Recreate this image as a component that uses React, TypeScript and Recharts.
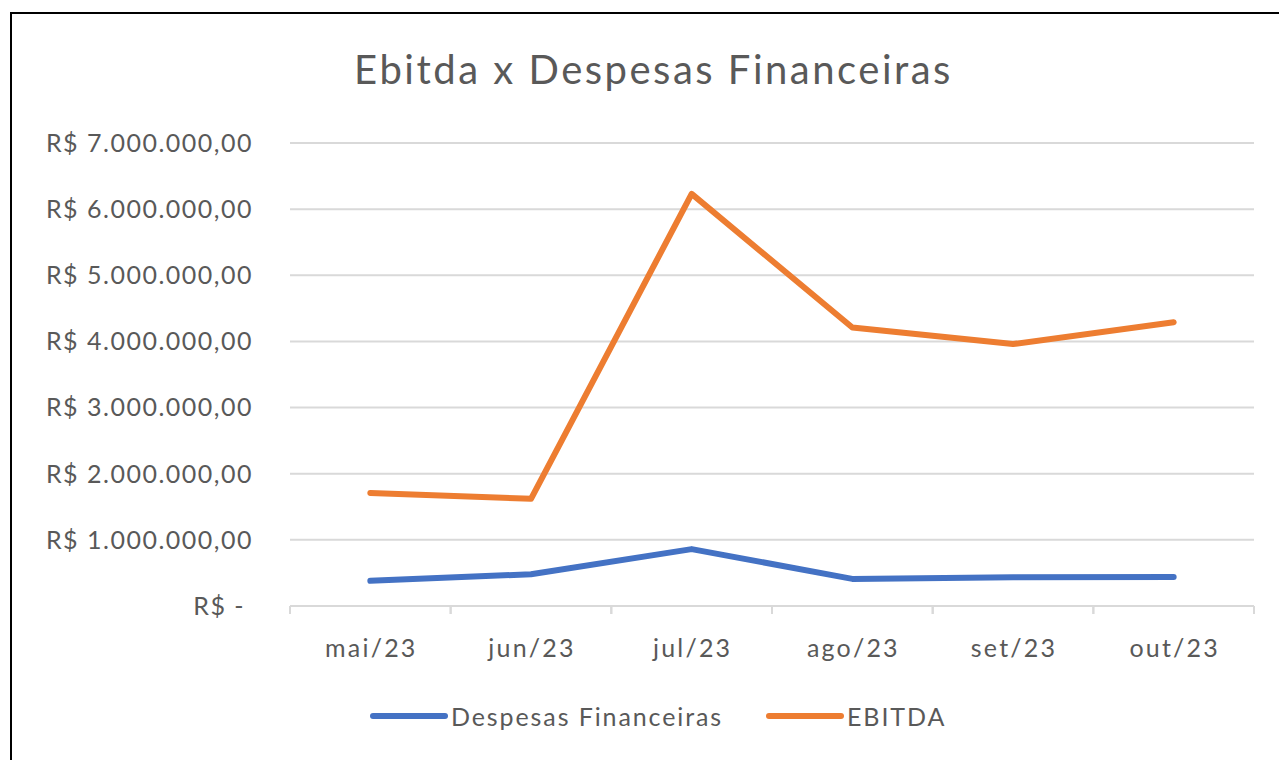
import { CartesianGrid, Legend, Line, LineChart, XAxis, YAxis } from "recharts";

const months = ["mai/23", "jun/23", "jul/23", "ago/23", "set/23", "out/23"];
const despesasFinanceiras = [380000, 480000, 860000, 410000, 435000, 440000];
const ebitda = [1710000, 1620000, 6230000, 4210000, 3960000, 4290000];
const yTicks = [0, 1000000, 2000000, 3000000, 4000000, 5000000, 6000000, 7000000];

const data = months.map((month, i) => ({
  month,
  despesas: despesasFinanceiras[i],
  ebitda: ebitda[i],
}));

const FONT = "Lato, 'Noto Sans', sans-serif";
const TEXT = "#595959";
const GRID = "#d9d9d9";

function formatBRL(value: number) {
  if (value === 0) return "R$ -\u00a0";
  const int = Math.round(value)
    .toString()
    .replace(/\B(?=(\d{3})+(?!\d))/g, ".");
  return `R$ ${int},00`;
}

function MonthTick(props: any) {
  const { x, y, payload } = props;
  const half = payload.offset ?? 0;
  const axisY = y - 33;
  return (
    <g>
      <line x1={x - half} x2={x - half} y1={axisY} y2={axisY + 8} stroke={GRID} strokeWidth={2} />
      <line x1={x + half} x2={x + half} y1={axisY} y2={axisY + 8} stroke={GRID} strokeWidth={2} />
      <text
        x={x + 1}
        y={y}
        dy="0.71em"
        textAnchor="middle"
        fill={TEXT}
        fontSize={25}
        letterSpacing={2.2}
        fontFamily={FONT}
      >
        {payload.value}
      </text>
    </g>
  );
}

function ChartLegend(props: any) {
  const items = props.payload ?? [];
  return (
    <div
      style={{
        display: "flex",
        justifyContent: "flex-start",
        alignItems: "center",
        height: 40,
        fontFamily: FONT,
        fontSize: 25,
        letterSpacing: 1.9,
        color: TEXT,
        paddingLeft: 369,
      }}
    >
      {items.map((item: any, i: number) => (
        <div
          key={item.value}
          style={{ display: "flex", alignItems: "center", marginLeft: i > 0 ? 42 : 0 }}
        >
          <svg width={80} height={12} style={{ marginRight: 2 }}>
            <line x1={4} x2={76} y1={6} y2={6} stroke={item.color} strokeWidth={6} strokeLinecap="round" />
          </svg>
          <span>{item.value}</span>
        </div>
      ))}
    </div>
  );
}

export default function App() {
  return (
    <div style={{ position: "fixed", left: 0, top: 0, width: 1279, height: 760, background: "#fff", overflow: "hidden" }}>
      <div
        style={{
          position: "absolute",
          left: 10,
          top: 12,
          width: 1300,
          height: 800,
          border: "2px solid #000",
          boxSizing: "border-box",
        }}
      />
      <div
        style={{
          position: "absolute",
          left: 0,
          top: 41,
          width: 1307,
          textAlign: "center",
          fontFamily: FONT,
          fontSize: 40,
          letterSpacing: 2.5,
          color: TEXT,
          lineHeight: "56px",
        }}
      >
        Ebitda x Despesas Financeiras
      </div>
      <div style={{ position: "absolute", left: 0, top: 0 }}>
        <LineChart
          width={1279}
          height={760}
          data={data}
          margin={{ top: 143, right: 25, bottom: 24, left: 0 }}
        >
          <CartesianGrid vertical={false} stroke={GRID} strokeWidth={2} />
          <XAxis
            dataKey="month"
            scale="band"
            height={90}
            tickSize={8}
            tickMargin={25}
            tickLine={false}
            axisLine={{ stroke: GRID, strokeWidth: 2 }}
            tick={<MonthTick />}
            interval={0}
          />
          <YAxis
            width={290}
            domain={[0, 7000000]}
            ticks={yTicks}
            tickFormatter={formatBRL}
            axisLine={false}
            tickLine={false}
            tickSize={0}
            tickMargin={37}
            tick={{ fill: TEXT, fontSize: 25, fontFamily: FONT, letterSpacing: 1.5 }}
          />
          <Legend verticalAlign="bottom" height={40} content={<ChartLegend />} />
          <Line
            type="linear"
            dataKey="despesas"
            name="Despesas Financeiras"
            stroke="#4472c4"
            strokeWidth={6}
            strokeLinecap="round"
            strokeLinejoin="round"
            dot={false}
            activeDot={false}
            isAnimationActive={false}
          />
          <Line
            type="linear"
            dataKey="ebitda"
            name="EBITDA"
            stroke="#ed7d31"
            strokeWidth={6}
            strokeLinecap="round"
            strokeLinejoin="round"
            dot={false}
            activeDot={false}
            isAnimationActive={false}
          />
        </LineChart>
      </div>
    </div>
  );
}
